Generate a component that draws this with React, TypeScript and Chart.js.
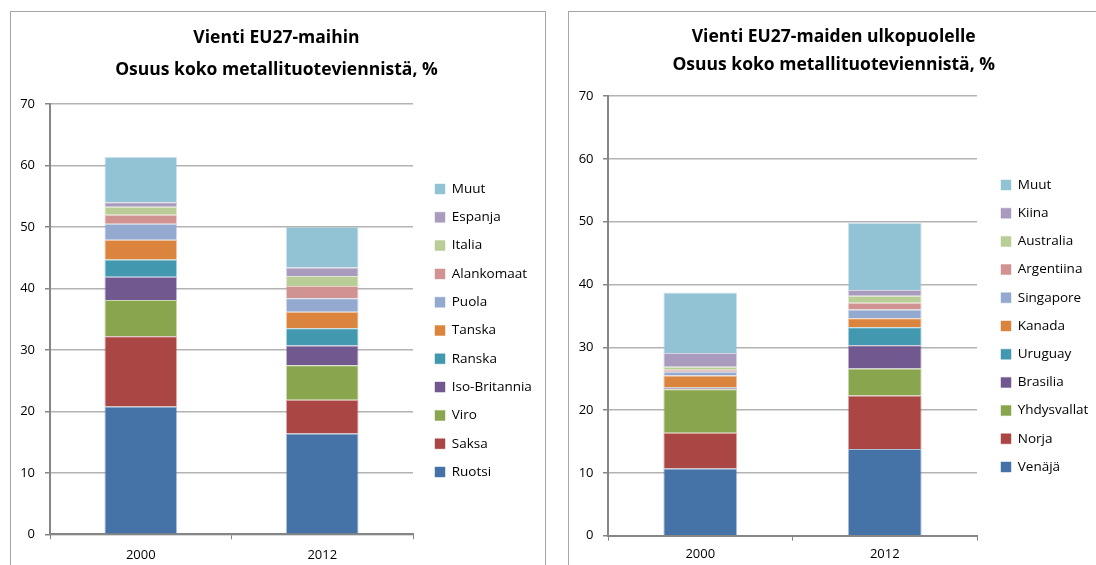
import React, { useEffect, useRef } from "react";
import { Chart, registerables } from "chart.js";

Chart.register(...registerables);

// ---------- data ----------
const years = ["2000", "2012"];

const euLabels = ["Ruotsi", "Saksa", "Viro", "Iso-Britannia", "Ranska", "Tanska", "Puola", "Alankomaat", "Italia", "Espanja", "Muut"];
const eu2000 = [20.8, 11.4, 5.9, 3.8, 2.8, 3.2, 2.6, 1.5, 1.3, 0.7, 7.4];
const eu2012 = [16.4, 5.5, 5.6, 3.2, 2.8, 2.7, 2.2, 2.0, 1.6, 1.4, 6.6];

const nonEuLabels = ["Venäjä", "Norja", "Yhdysvallat", "Brasilia", "Uruguay", "Kanada", "Singapore", "Argentiina", "Australia", "Kiina", "Muut"];
const nonEu2000 = [10.7, 5.7, 6.9, 0.2, 0.1, 1.9, 0.6, 0.3, 0.5, 2.2, 9.6];
const nonEu2012 = [13.8, 8.5, 4.3, 3.7, 2.9, 1.4, 1.4, 1.1, 1.1, 0.9, 10.7];

const euTitle = ["Vienti EU27-maihin", "Osuus koko metallituoteviennistä, %"];
const nonEuTitle = ["Vienti EU27-maiden ulkopuolelle", "Osuus koko metallituoteviennistä, %"];

const yMin = 0;
const yMax = 70;
const yStep = 10;

// ---------- style ----------
const palette = ["#4572A7", "#AA4643", "#89A54E", "#71588F", "#4198AF", "#DB843D", "#93A9CF", "#D19392", "#B9CD96", "#A99BBD", "#92C3D4"];
const FONT = "'Open Sans', Lato, sans-serif";
const LEGEND_SIZE = 13.5;
const TICK_SIZE = 13;
const TITLE_SIZE = 17.5;
const BOX = 10;

function withAlpha(hex: string, a: number) {
  const n = parseInt(hex.slice(1), 16);
  return `rgba(${(n >> 16) & 255},${(n >> 8) & 255},${n & 255},${a})`;
}

type Lay = {
  canvasW: number;
  canvasH: number;
  axisW: number;
  plotRight: number;
  plotBottom: number;
  legendGap: number;
  legendPad: number;
  titleLH: number;
  titlePadTop: number;
  titlePadBottom: number;
  yTickPad: number;
  xTickPad: number;
};

function Panel({ title, labels, a, b, lay }: { title: string[]; labels: string[]; a: number[]; b: number[]; lay: Lay }) {
  const ref = useRef<HTMLCanvasElement>(null);
  useEffect(() => {
    const canvas = ref.current!;
    const m = document.createElement("canvas").getContext("2d")!;
    m.font = `${LEGEND_SIZE}px ${FONT}`;
    const maxText = Math.max(...labels.map((l) => m.measureText(l).width));
    // Chart.js vertical legend width = padding + box + size/2 + text + 10
    const legendW = lay.legendPad + BOX + LEGEND_SIZE / 2 + maxText + 10;
    const dummyW = lay.legendGap - lay.legendPad;
    const padRight = Math.max(0, lay.canvasW - lay.plotRight - dummyW - legendW);

    const datasets = labels.map((lab, i) => ({
      label: lab,
      data: [a[i], b[i]],
      backgroundColor: palette[i],
      borderColor: withAlpha(palette[i], 0.45),
      borderWidth: 1,
      categoryPercentage: 1,
      barPercentage: 0.4,
      yAxisID: "y",
    }));

    const chart = new Chart(canvas, {
      type: "bar",
      data: { labels: years, datasets },
      options: {
        responsive: false,
        animation: false,
        devicePixelRatio: 1,
        layout: { padding: { left: 0, top: 0, bottom: 0, right: padRight } },
        plugins: {
          tooltip: { enabled: false },
          title: {
            display: true,
            text: title,
            color: "#000",
            font: { family: FONT, size: TITLE_SIZE, weight: "bold", lineHeight: lay.titleLH / TITLE_SIZE },
            padding: { top: lay.titlePadTop, bottom: lay.titlePadBottom },
          },
          legend: {
            display: true,
            position: "right",
            reverse: true,
            align: "center",
            maxWidth: 400,
            labels: {
              boxWidth: BOX,
              boxHeight: BOX,
              padding: lay.legendPad,
              color: "#000",
              font: { family: FONT, size: LEGEND_SIZE },
            },
          },
        },
        scales: {
          x: {
            stacked: true,
            afterFit: (s: any) => {
              s.height = lay.canvasH - lay.plotBottom;
            },
            grid: { drawOnChartArea: false, drawTicks: true, tickLength: 5, color: "#868686", lineWidth: 1, offset: true },
            border: { display: true, color: "#868686", width: 2 },
            ticks: { color: "#000", font: { family: FONT, size: TICK_SIZE }, padding: lay.xTickPad },
          },
          y: {
            stacked: true,
            min: yMin,
            max: yMax,
            position: "left",
            afterFit: (s: any) => {
              s.width = lay.axisW;
            },
            grid: { color: "#b3b3b3", lineWidth: 1.5, tickColor: "#868686", tickLength: 5, drawTicks: true },
            border: { display: true, color: "#868686", width: 2 },
            ticks: { stepSize: yStep, color: "#000", font: { family: FONT, size: TICK_SIZE }, padding: lay.yTickPad },
          },
          gap: {
            type: "linear",
            position: "right",
            display: true,
            grid: { display: false, drawTicks: false },
            border: { display: false },
            ticks: { display: false },
            afterFit: (s: any) => {
              s.width = dummyW;
            },
          },
        },
      } as any,
    });
    return () => chart.destroy();
  }, []);
  return (
    <canvas
      ref={ref}
      width={lay.canvasW}
      height={lay.canvasH}
      style={{ position: "absolute", left: 0, top: 0, width: lay.canvasW, height: lay.canvasH, display: "block" }}
    />
  );
}

const leftLay: Lay = {
  canvasW: 534,
  canvasH: 637,
  axisW: 39,
  plotRight: 402,
  plotBottom: 522.3,
  legendGap: 22,
  legendPad: 14.8,
  titleLH: 32,
  titlePadTop: 10,
  titlePadBottom: 18,
  yTickPad: 10,
  xTickPad: 8,
};

const rightLay: Lay = {
  canvasW: 532,
  canvasH: 628,
  axisW: 39,
  plotRight: 408,
  plotBottom: 523.7,
  legendGap: 24,
  legendPad: 14.7,
  titleLH: 27.7,
  titlePadTop: 11.6,
  titlePadBottom: 17,
  yTickPad: 9.5,
  xTickPad: 6.2,
};

export default function App() {
  return (
    <div style={{ position: "fixed", left: 0, top: 0, width: 1096, height: 565, overflow: "hidden", background: "#fff" }}>
      <div style={{ position: "absolute", left: 10, top: 11, width: 536, height: 700, border: "1px solid #a6a6a6", boxSizing: "border-box" }}>
        <Panel title={euTitle} labels={euLabels} a={eu2000} b={eu2012} lay={leftLay} />
      </div>
      <div style={{ position: "absolute", left: 568, top: 11, width: 600, height: 700, border: "1px solid #a6a6a6", boxSizing: "border-box" }}>
        <Panel title={nonEuTitle} labels={nonEuLabels} a={nonEu2000} b={nonEu2012} lay={rightLay} />
      </div>
    </div>
  );
}
